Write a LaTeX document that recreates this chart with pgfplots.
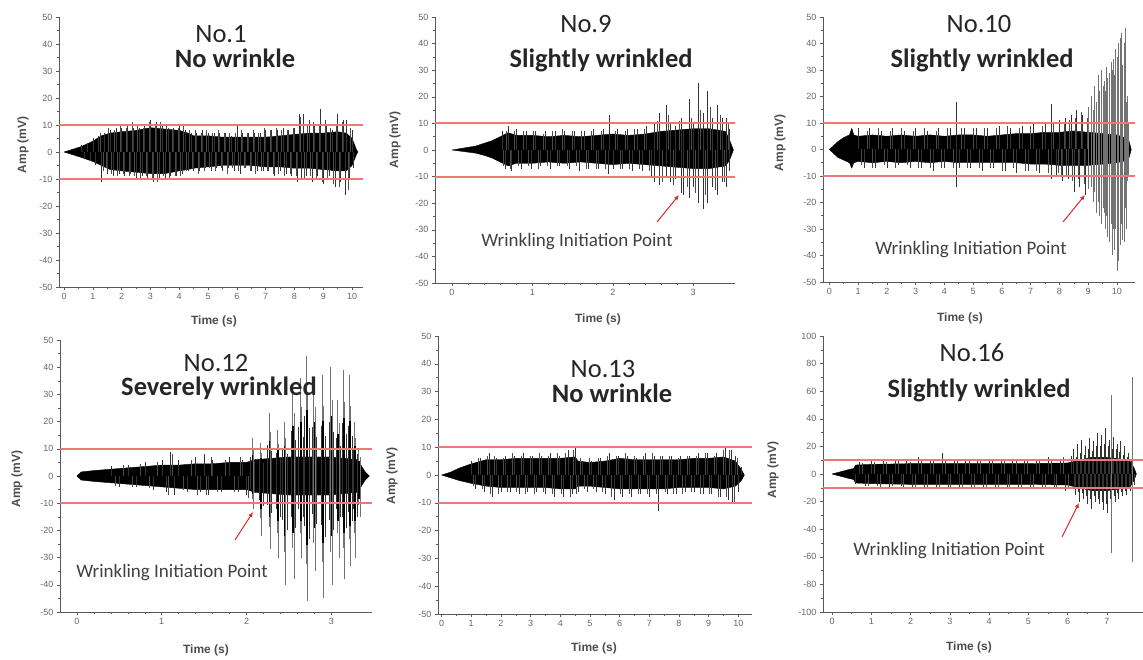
\documentclass[border=0pt]{standalone}
\usepackage{pgfplots}
\pgfplotsset{compat=1.18}
\usepackage{fontspec}
\setmainfont{Carlito}
\newfontfamily\arialf{Liberation Sans}
\usetikzlibrary{arrows.meta}
\definecolor{thrc}{RGB}{238,120,120}
\definecolor{arrc}{RGB}{220,40,40}
\newcommand\tickfont{\arialf\fontsize{9}{10}\selectfont}
\newcommand\labfont{\arialf\bfseries\fontsize{12}{13}\selectfont}
\newcommand\titfont{\fontsize{26.5}{28}\selectfont}
\newcommand\wfont{\fontsize{19}{21}\selectfont}
\pgfplotsset{
 panel/.style={scale only axis, anchor=south west, axis lines*=left,
   axis line style={black!65,line width=0.6pt},
   tick style={black!65,line width=0.5pt},
   tick align=outside, major tick length=3pt, minor tick length=1.8pt,
   ticklabel style={font=\tickfont, text=black!60},
   /pgf/number format/assume math mode=true,
   ymin=-50,ymax=50, ytick={-50,-40,...,50}, minor y tick num=1,
   minor x tick num=1, clip=false},
 core/.style={color=black, fill=black, line width=0.4pt, mark=none},
 fr/.style={ycomb, color=black!80, line width=0.4pt, mark=none},
 fr2/.style={ycomb, color=black!70, line width=0.35pt, mark=none},
 gr/.style={ycomb, color=black!55, line width=0.45pt, mark=none},
 thick/.style={ycomb, color=black, line width=1.6pt, mark=none},
 thr/.style={sharp plot, fill=thrc, draw=none, mark=none},
}
\tikzset{warr/.style={draw=arrc, line width=1pt, -{Latex[length=5pt,width=4.5pt]}}}
\begin{document}
\begin{tikzpicture}[x=1pt,y=1pt]
\useasboundingbox (0pt,0pt) rectangle (1143pt,659pt);
% ---------------- Panel 1 ----------------
\begin{axis}[panel, at={(59pt,372pt)}, width=304pt, height=270pt, xmin=-0.174, xmax=10.38, xtick={0,...,10}]
\addplot[core] coordinates {(0,0) (0.3,1) (0.6,2) (1.0,4) (1.3,6) (1.6,7) (2.0,7.5) (2.5,8) (3.0,9) (3.5,8.5) (4.0,8) (4.3,7) (4.5,6) (5.0,6) (5.5,5.5) (6.0,5.5) (6.5,5.5) (7.0,5.5) (7.5,6) (8.0,6.5) (8.5,7) (9.0,7) (9.5,7.5) (9.8,7) (10.0,5) (10.15,1) (10.2,0) (10.15,-1) (10.0,-5) (9.8,-7) (9.5,-7) (9.0,-6.5) (8.5,-6) (8.0,-6) (7.5,-5.5) (7.0,-5.5) (6.5,-5) (6.0,-5) (5.5,-5) (5.0,-5.5) (4.5,-6) (4.3,-6.5) (4.0,-7) (3.5,-8) (3.0,-8) (2.5,-7.5) (2.0,-7) (1.6,-6.5) (1.3,-5) (1.0,-3.5) (0.6,-2) (0.3,-1) (0,0)};
\addplot[fr] coordinates {(0.6,2.5) (0.7,-2.5) (0.8,3.5) (0.9,-3.5) (1.0,5) (1.1,-5) (1.2,6) (1.3,-11) (1.4,7) (1.5,-8) (1.6,8) (1.7,-9) (1.8,9) (1.9,-8) (2.0,9) (2.1,-9) (2.2,10) (2.3,-8) (2.4,9) (2.5,-10) (2.6,9) (2.7,-9) (2.8,10) (2.9,-10) (3.0,12) (3.1,-11) (3.2,11) (3.3,-10) (3.4,10) (3.5,-10) (3.6,9) (3.7,-9) (3.8,9) (3.9,-9) (4.0,10) (4.1,-8) (4.2,8) (4.3,-7) (4.4,7) (4.5,-7) (4.6,7) (4.7,-7) (4.8,8) (4.9,-6) (5.0,7) (5.1,-7) (5.2,7) (5.3,-6) (5.4,7) (5.5,-7) (5.6,7) (5.7,-6) (5.8,6) (5.9,-7) (6.0,10) (6.1,-8) (6.2,7) (6.3,-6) (6.4,7) (6.5,-7) (6.6,7) (6.7,-7) (6.8,7) (6.9,-7) (7.0,8) (7.1,-7) (7.2,8) (7.3,-9) (7.4,8) (7.5,-7) (7.6,9) (7.7,-8) (7.8,8) (7.9,-9) (8.0,9) (8.1,-11) (8.15,14) (8.25,-10) (8.3,14) (8.4,-9) (8.5,12) (8.6,-11) (8.7,10) (8.8,-9) (8.9,16) (9.0,-12) (9.1,10) (9.2,-9) (9.3,8) (9.4,-13) (9.5,14) (9.6,-11) (9.7,12) (9.75,-16) (9.8,12) (9.9,-10) (10.0,8) (10.05,-6)};
\addplot[fr2] coordinates {(1.25,7) (1.35,-7) (1.45,-6) (1.55,9) (1.65,-8) (1.75,8) (1.85,-9) (1.95,10) (2.05,-8) (2.15,9) (2.25,-9) (2.35,11) (2.45,-9) (2.55,10) (2.65,-10) (2.75,9) (2.85,-9) (2.95,11) (3.05,-10) (3.15,10) (3.25,-11) (3.35,11) (3.45,-9) (3.55,10) (3.65,-10) (3.75,8) (3.85,-9) (3.95,9) (4.05,-9) (4.15,10) (4.25,-7) (4.35,8) (4.45,-6) (4.55,8) (4.65,-8) (4.75,7) (4.85,-7) (4.95,8) (5.05,-6) (5.15,7) (5.25,-7) (5.35,8) (5.45,-6) (5.55,7) (5.65,-8) (5.75,7) (5.85,-6) (5.95,7) (6.05,-7) (6.15,8) (6.25,-6) (6.35,7) (6.45,-7) (6.55,8) (6.65,-8) (6.75,7) (6.85,-7) (6.95,9) (7.05,-7) (7.15,8) (7.25,-8) (7.35,9) (7.45,-8) (7.55,8) (7.65,-9) (7.75,8) (7.85,-8) (7.95,9) (8.05,-9) (8.2,13) (8.35,-10) (8.45,10) (8.55,-9) (8.65,11) (8.75,-10) (8.85,10) (8.95,-11) (9.05,12) (9.15,-10) (9.25,9) (9.35,-12) (9.45,10) (9.55,-13) (9.65,11) (9.85,-14) (9.95,9)};
\addplot[thr] coordinates {(-0.174,9.65) (10.38,9.65) (10.38,10.35) (-0.174,10.35)};
\addplot[thr] coordinates {(-0.174,-10.35) (10.38,-10.35) (10.38,-9.65) (-0.174,-9.65)};
\end{axis}
% ---------------- Panel 2 ----------------
\begin{axis}[panel, at={(435pt,376pt)}, width=300pt, height=266pt, xmin=-0.21, xmax=3.52, xtick={0,1,2,3}, minor x tick num=4]
\addplot[core] coordinates {(0,0) (0.1,0.5) (0.2,1) (0.3,1.5) (0.4,2.5) (0.5,3.5) (0.6,5) (0.7,6.5) (0.8,5.5) (1.0,5.5) (1.2,5) (1.4,5.5) (1.6,5) (1.8,5.5) (2.0,6) (2.2,5.5) (2.4,6) (2.6,7) (2.8,7.5) (3.0,8) (3.2,8) (3.4,7) (3.45,4) (3.5,0) (3.45,-4) (3.4,-6) (3.2,-7) (3.0,-7) (2.8,-6.5) (2.6,-6) (2.4,-5.5) (2.2,-5) (2.0,-5.5) (1.8,-5) (1.6,-4.5) (1.4,-5) (1.2,-4.5) (1.0,-5) (0.8,-5) (0.7,-6) (0.6,-4.5) (0.5,-3) (0.4,-2) (0.3,-1.2) (0.2,-0.8) (0.1,-0.4) (0,0)};
\addplot[fr] coordinates {(0.62,7) (0.66,-7) (0.70,9) (0.74,-8) (0.80,8) (0.86,-7) (0.92,7) (0.98,-7) (1.04,7) (1.10,-6) (1.16,7) (1.22,-7) (1.28,7) (1.34,-6) (1.40,7) (1.46,-7) (1.52,7) (1.58,-8) (1.64,7) (1.70,-7) (1.76,8) (1.82,-7) (1.88,8) (1.94,-9) (1.96,13) (2.00,-7) (2.06,8) (2.12,-7) (2.18,8) (2.24,-8) (2.30,8) (2.36,-8) (2.42,9) (2.48,-10) (2.52,10) (2.52,-12) (2.58,14) (2.58,-13) (2.66,17) (2.66,-10) (2.72,10) (2.72,-12) (2.78,9) (2.78,-11) (2.85,12) (2.85,-16) (2.88,8) (2.88,-17) (2.95,19) (2.95,-18) (3.0,10) (3.0,-14) (3.06,25) (3.06,-20) (3.12,14) (3.12,-22) (3.18,22) (3.18,-20) (3.24,12) (3.24,-14) (3.3,17) (3.3,-17) (3.36,12) (3.36,-12) (3.41,12) (3.41,-14) (3.45,8) (3.45,-8)};
\addplot[fr2] coordinates {(0.64,-6) (0.68,7) (0.72,-7) (0.77,7) (0.83,-6) (0.89,7) (0.95,-6) (1.01,7) (1.07,-7) (1.13,6) (1.19,-6) (1.25,7) (1.31,-6) (1.37,8) (1.43,-6) (1.49,7) (1.55,-6) (1.61,7) (1.67,-7) (1.73,7) (1.79,-7) (1.85,7) (1.91,-7) (2.03,7) (2.09,-7) (2.15,7) (2.21,-7) (2.27,8) (2.33,-7) (2.39,8) (2.45,-8) (2.55,11) (2.62,-12) (2.69,13) (2.75,-13) (2.82,11) (2.92,-14) (2.98,12) (3.03,-16) (3.09,15) (3.15,-17) (3.21,16) (3.27,-15) (3.33,13) (3.39,-12) (3.43,10)};
\addplot[thr] coordinates {(-0.21,9.65) (3.52,9.65) (3.52,10.35) (-0.21,10.35)};
\addplot[thr] coordinates {(-0.21,-10.35) (3.52,-10.35) (3.52,-9.65) (-0.21,-9.65)};
\end{axis}
% ---------------- Panel 3 ----------------
\begin{axis}[panel, at={(823pt,377pt)}, width=312pt, height=265pt, xmin=-0.22, xmax=10.63, xtick={0,...,10}]
\addplot[core] coordinates {(0,0) (0.15,1.5) (0.3,3) (0.5,4.5) (0.7,5.5) (0.78,8) (0.85,5.5) (1.0,5) (1.5,5.5) (2.0,5) (2.5,5.5) (3.0,5) (3.5,5.5) (4.0,5) (4.5,5.5) (5.0,5.5) (5.5,5) (6.0,5.5) (6.5,6) (7.0,6) (7.5,6.5) (8.0,6.5) (8.5,7) (9.0,6.5) (9.5,6) (10.0,5.5) (10.4,4) (10.5,0) (10.4,-4) (10.0,-5) (9.5,-5.5) (9.0,-6) (8.5,-6) (8.0,-6) (7.5,-5.5) (7.0,-5.5) (6.5,-5) (6.0,-5) (5.5,-5) (5.0,-5) (4.5,-5) (4.0,-4.5) (3.5,-5) (3.0,-4.5) (2.5,-5) (2.0,-4.5) (1.5,-5) (1.0,-4.5) (0.85,-5) (0.78,-7) (0.7,-5) (0.5,-4) (0.3,-3) (0.15,-1.5) (0,0)};
\addplot[fr] coordinates {(1.0,8) (1.2,-7) (1.4,8) (1.6,-7) (1.8,7) (2.0,-7) (2.2,8) (2.4,-6) (2.6,7) (2.8,-7) (3.0,8) (3.2,-7) (3.4,7) (3.6,-8) (3.8,8) (4.0,-7) (4.2,8) (4.4,-14) (4.42,18) (4.5,-7) (4.7,8) (4.9,-7) (5.1,8) (5.3,-8) (5.5,8) (5.7,-7) (5.9,9) (6.1,-8) (6.3,8) (6.5,-9) (6.7,9) (6.9,-8) (7.1,10) (7.3,-9) (7.5,10) (7.7,-11) (7.72,17) (7.9,-10) (8.0,11) (8.1,-12) (8.2,12) (8.3,-11) (8.4,13) (8.5,-16) (8.6,15) (8.7,-14) (8.8,13) (8.9,-17)};
\addplot[fr2] coordinates {(1.1,-6) (1.3,7) (1.5,-7) (1.7,8) (1.9,-6) (2.1,7) (2.3,-7) (2.5,8) (2.7,-6) (2.9,7) (3.1,-7) (3.3,8) (3.5,-7) (3.7,7) (3.9,-7) (4.1,8) (4.3,-7) (4.6,8) (4.8,-7) (5.0,8) (5.2,-7) (5.4,8) (5.6,-7) (5.8,8) (6.0,-8) (6.2,9) (6.4,-7) (6.6,8) (6.8,-8) (7.0,9) (7.2,-8) (7.4,9) (7.6,-9) (7.8,10) (7.95,-9) (8.05,-10) (8.15,10) (8.25,-10) (8.35,11) (8.45,-12) (8.55,12) (8.65,-11) (8.75,14) (8.85,-13) (8.95,12)};
\addplot[gr] coordinates {(9.0,16) (9.0,-15) (9.1,20) (9.1,-14) (9.17,15) (9.17,-20) (9.22,24) (9.22,-16) (9.28,18) (9.28,-24) (9.34,28) (9.34,-20) (9.40,22) (9.40,-25) (9.46,30) (9.46,-28) (9.52,24) (9.52,-22) (9.56,26) (9.56,-24) (9.6,22) (9.6,-30) (9.63,31) (9.63,-25) (9.68,27) (9.68,-33) (9.72,29) (9.72,-24) (9.75,25) (9.75,-35) (9.8,33) (9.8,-28) (9.83,30) (9.83,-40) (9.86,34) (9.86,-30) (9.9,28) (9.9,-38) (9.95,38) (9.95,-30) (10.0,35) (10.0,-46) (10.03,40) (10.03,-32) (10.06,33) (10.06,-42) (10.1,42) (10.1,-30) (10.13,30) (10.13,-36) (10.16,44) (10.16,-28) (10.2,32) (10.2,-34) (10.24,40) (10.24,-25) (10.27,28) (10.27,-35) (10.3,46) (10.3,-22) (10.33,18) (10.33,-30) (10.36,20) (10.36,-12) (10.4,10) (10.4,-10)};
\addplot[thr] coordinates {(-0.22,9.65) (10.63,9.65) (10.63,10.35) (-0.22,10.35)};
\addplot[thr] coordinates {(-0.22,-10.35) (10.63,-10.35) (10.63,-9.65) (-0.22,-9.65)};
\end{axis}
% ---------------- Panel 4 ----------------
\begin{axis}[panel, at={(60pt,47pt)}, width=312pt, height=272pt, xmin=-0.2, xmax=3.48, xtick={0,1,2,3}, minor x tick num=4]
\addplot[core] coordinates {(0,0) (0.05,1.5) (0.2,2) (0.4,2.5) (0.6,3) (0.8,3.5) (1.0,4) (1.2,4) (1.4,4.5) (1.6,4.5) (1.8,5) (2.0,5) (2.1,6) (2.5,7) (3.0,7) (3.3,6) (3.35,4) (3.4,1.5) (3.45,0) (3.4,-1.5) (3.35,-4) (3.3,-6) (3.0,-7) (2.5,-7) (2.1,-6) (2.0,-5) (1.8,-5) (1.6,-5) (1.4,-5) (1.2,-4.5) (1.0,-4) (0.8,-3.5) (0.6,-3) (0.4,-2.5) (0.2,-2) (0.05,-1.5) (0,0)};
\addplot[fr] coordinates {(0.4,3.5) (0.5,-4) (0.6,4) (0.7,-4) (0.8,5) (0.9,-5) (1.0,6) (1.05,-6) (1.1,9) (1.15,-7) (1.2,6) (1.3,-6) (1.4,7) (1.45,-6) (1.5,8) (1.55,-7) (1.6,6) (1.7,-6) (1.8,7) (1.9,-6) (1.95,6) (2.0,-7)};
\addplot[fr2] coordinates {(0.45,-3.5) (0.55,4) (0.65,-4) (0.75,4.5) (0.85,-4.5) (0.95,5) (1.08,-7) (1.12,8) (1.25,-5) (1.35,6) (1.42,-7) (1.52,-7) (1.58,7) (1.65,-6) (1.75,6) (1.85,-6) (1.92,7) (2.02,-8)};
\addplot[gr] coordinates {(2.062,14) (2.062,-8.4) (2.078,9.8) (2.078,-12) (2.162,12) (2.162,-15.4) (2.178,8.4) (2.178,-22) (2.262,23) (2.262,-18.9) (2.278,16.1) (2.278,-27) (2.362,17) (2.362,-21) (2.378,11.9) (2.378,-30) (2.442,20) (2.442,-28) (2.458,14) (2.458,-40) (2.542,33) (2.542,-26.6) (2.558,23.1) (2.558,-38) (2.632,36) (2.632,-21) (2.648,25.2) (2.648,-30) (2.702,44) (2.702,-32.2) (2.718,30.8) (2.718,-46) (2.792,36) (2.792,-24.5) (2.808,25.2) (2.808,-35) (2.892,37) (2.892,-31.5) (2.908,25.9) (2.908,-45) (2.992,40) (2.992,-28) (3.008,28) (3.008,-40) (3.072,28) (3.072,-21) (3.088,19.6) (3.088,-30) (3.142,39) (3.142,-26.6) (3.158,27.3) (3.158,-38) (3.212,37) (3.212,-23.1) (3.228,25.9) (3.228,-33) (3.272,20) (3.272,-21) (3.288,14) (3.288,-30) (3.322,10) (3.322,-10.5) (3.338,7) (3.338,-15)};
\addplot[fr] coordinates {(2.045,7) (2.045,-4.8) (2.095,5.6) (2.095,-6) (2.145,6) (2.145,-8.8) (2.195,4.8) (2.195,-11) (2.245,11.5) (2.245,-10.8) (2.295,9.2) (2.295,-13.5) (2.345,8.5) (2.345,-12) (2.395,6.8) (2.395,-15) (2.425,10) (2.425,-16) (2.475,8) (2.475,-20) (2.525,16.5) (2.525,-15.2) (2.575,13.2) (2.575,-19) (2.615,18) (2.615,-12) (2.665,14.4) (2.665,-15) (2.685,22) (2.685,-18.4) (2.735,17.6) (2.735,-23) (2.775,18) (2.775,-14) (2.825,14.4) (2.825,-17.5) (2.875,18.5) (2.875,-18) (2.925,14.8) (2.925,-22.5) (2.975,20) (2.975,-16) (3.025,16) (3.025,-20) (3.055,14) (3.055,-12) (3.105,11.2) (3.105,-15) (3.125,19.5) (3.125,-15.2) (3.175,15.6) (3.175,-19) (3.195,18.5) (3.195,-13.2) (3.245,14.8) (3.245,-16.5) (3.26,10) (3.26,-12) (3.30,8) (3.30,-15)};
\addplot[thick] coordinates {(2.07,7.7) (2.07,-6.6) (2.17,6.6) (2.17,-12.1) (2.27,12.7) (2.27,-14.9) (2.37,9.4) (2.37,-16.5) (2.45,11) (2.45,-22) (2.55,18.2) (2.55,-20.9) (2.64,19.8) (2.64,-16.5) (2.71,24.2) (2.71,-25.3) (2.80,19.8) (2.80,-19.3) (2.90,20.4) (2.90,-24.8) (3.00,22) (3.00,-22) (3.08,15.4) (3.08,-16.5) (3.15,21.5) (3.15,-20.9) (3.22,20.4) (3.22,-18.2) (3.28,11) (3.28,-16.5) (3.33,5.5) (3.33,-8.3)};
\addplot[thr] coordinates {(-0.2,9.65) (3.48,9.65) (3.48,10.35) (-0.2,10.35)};
\addplot[thr] coordinates {(-0.2,-10.35) (3.48,-10.35) (3.48,-9.65) (-0.2,-9.65)};
\end{axis}
% ---------------- Panel 5 ----------------
\begin{axis}[panel, at={(438pt,45pt)}, width=314pt, height=278pt, xmin=-0.12, xmax=10.46, xtick={0,...,10}]
\addplot[core] coordinates {(0,0) (0.3,1) (0.6,2.5) (1.0,4) (1.5,5.5) (2.0,5.5) (2.5,6) (3.0,6) (3.5,6) (4.0,6) (4.5,6.5) (4.6,5) (5.0,4.5) (5.5,5) (6.0,6) (6.5,5.5) (7.0,5.5) (7.5,5.5) (8.0,5.5) (8.5,6) (9.0,6) (9.5,6.5) (9.9,5) (10.1,2) (10.2,0) (10.1,-2) (9.9,-4) (9.5,-5) (9.0,-4.5) (8.5,-4.5) (8.0,-4.5) (7.5,-5) (7.0,-5) (6.5,-5) (6.0,-5) (5.5,-4.5) (5.0,-4) (4.6,-4) (4.5,-5) (4.0,-5) (3.5,-4.5) (3.0,-4.5) (2.5,-4.5) (2.0,-4.5) (1.5,-4) (1.0,-3) (0.6,-2) (0.3,-1) (0,0)};
\addplot[fr] coordinates {(1.0,5) (1.15,-5) (1.3,6) (1.45,-6) (1.6,8) (1.7,-8) (1.85,6) (2.0,-6) (2.15,7) (2.3,-6) (2.45,7) (2.6,-7) (2.75,8) (2.9,-6) (3.05,7) (3.2,-6) (3.35,7) (3.5,-7) (3.65,8) (3.8,-8) (3.95,7) (4.1,-8) (4.25,9) (4.4,-7) (4.5,10) (4.6,-6) (4.75,5) (4.9,-6) (5.05,5) (5.2,-6) (5.35,6) (5.5,-7) (5.65,8) (5.8,-9) (5.95,7) (6.1,-8) (6.25,7) (6.4,-8) (6.55,6) (6.7,-7) (6.85,8) (7.0,-8) (7.15,7) (7.3,-13) (7.45,7) (7.6,-7) (7.75,7) (7.9,-7) (8.05,7) (8.2,-6) (8.35,7) (8.5,-6) (8.65,8) (8.8,-7) (8.95,8) (9.1,-7) (9.25,8) (9.4,-8) (9.55,10) (9.65,-9) (9.75,9) (9.8,-10) (9.9,7) (10.0,-6) (10.1,3)};
\addplot[fr2] coordinates {(1.08,-4) (1.22,6) (1.38,-5) (1.52,7) (1.65,-7) (1.78,7) (1.92,-7) (2.08,6) (2.22,-6) (2.38,8) (2.52,-6) (2.68,7) (2.82,-7) (2.98,7) (3.12,-7) (3.28,8) (3.42,-6) (3.58,7) (3.72,-7) (3.88,8) (4.02,-7) (4.18,8) (4.32,-8) (4.45,9) (4.55,-7) (4.68,6) (4.82,-5) (4.98,6) (5.12,-5) (5.28,6) (5.42,-6) (5.58,7) (5.72,-8) (5.88,7) (6.02,-7) (6.18,8) (6.32,-7) (6.48,7) (6.62,-7) (6.78,7) (6.92,-7) (7.08,8) (7.22,-7) (7.38,7) (7.52,-6) (7.68,7) (7.82,-7) (7.98,6) (8.12,-7) (8.28,7) (8.42,-6) (8.58,7) (8.72,-7) (8.88,8) (9.02,-7) (9.18,7) (9.32,-8) (9.48,9) (9.6,-8) (9.7,9) (9.85,-10) (9.95,6)};
\addplot[thr] coordinates {(-0.12,9.65) (10.46,9.65) (10.46,10.35) (-0.12,10.35)};
\addplot[thr] coordinates {(-0.12,-10.35) (10.46,-10.35) (10.46,-9.65) (-0.12,-9.65)};
\end{axis}
% ---------------- Panel 6 ----------------
\begin{axis}[panel, at={(823pt,47pt)}, width=320pt, height=276pt, xmin=-0.23, xmax=7.92, xtick={0,...,7}, ymin=-100, ymax=100, ytick={-100,-80,...,100}]
\addplot[core] coordinates {(0,0) (0.2,1.5) (0.4,3) (0.55,4) (0.6,6.5) (1.0,7) (2.0,7.5) (3.0,7.5) (4.0,7.5) (5.0,7.5) (6.0,8) (6.3,10) (6.6,12) (7.0,12) (7.3,11) (7.6,9) (7.7,4) (7.75,0) (7.7,-4) (7.6,-9) (7.3,-11) (7.0,-12) (6.6,-12) (6.3,-10) (6.0,-8) (5.0,-7.5) (4.0,-7.5) (3.0,-7.5) (2.0,-7.5) (1.0,-7) (0.6,-6.5) (0.55,-4) (0.4,-3) (0.2,-1.5) (0,0)};
\addplot[fr] coordinates {(0.6,-7) (0.7,9) (0.85,-9) (1.0,10) (1.15,-9) (1.3,10) (1.45,-10) (1.6,11) (1.75,-9) (1.9,10) (2.05,-10) (2.2,12) (2.35,-10) (2.5,11) (2.65,-10) (2.8,15) (2.95,-10) (3.1,11) (3.25,-11) (3.4,10) (3.55,-10) (3.7,11) (3.85,-10) (4.0,10) (4.15,-11) (4.3,11) (4.45,-10) (4.6,11) (4.75,-11) (4.9,10) (5.05,-11) (5.2,11) (5.35,-10) (5.5,12) (5.65,-11) (5.8,11) (5.95,-12) (6.1,13) (6.15,18) (6.2,-15) (6.25,22) (6.3,-20) (6.35,25) (6.4,-18) (6.45,20) (6.5,-22) (6.55,26) (6.6,-25) (6.65,24) (6.7,-20) (6.75,30) (6.8,-22) (6.85,28) (6.9,-26) (6.95,33) (7.0,-28) (7.05,25) (7.1,-22) (7.15,27) (7.2,-20) (7.25,22) (7.3,-18) (7.35,24) (7.4,-16) (7.45,20) (7.5,-15) (7.55,15) (7.6,-12) (7.65,12) (7.7,-8)};
\addplot[fr] coordinates {(6.175,-10) (6.225,12) (6.275,-13) (6.325,15) (6.375,-14) (6.425,14) (6.475,-16) (6.525,18) (6.575,-18) (6.625,17) (6.675,-16) (6.725,20) (6.775,-18) (6.825,20) (6.875,-20) (6.925,22) (6.975,-22) (7.025,20) (7.075,-18) (7.125,18) (7.175,-16) (7.225,18) (7.275,-14) (7.325,16) (7.375,-13) (7.425,14) (7.475,-12) (7.525,12) (7.575,-10) (7.625,10)};
\addplot[fr2] coordinates {(0.78,8) (0.92,-9) (1.08,9) (1.22,-10) (1.38,9) (1.52,-9) (1.68,10) (1.82,-10) (1.98,9) (2.12,-11) (2.28,10) (2.42,-10) (2.58,10) (2.72,-10) (2.88,11) (3.02,-10) (3.18,10) (3.32,-10) (3.48,11) (3.62,-10) (3.78,10) (3.92,-11) (4.08,10) (4.22,-10) (4.38,11) (4.52,-11) (4.68,10) (4.82,-10) (4.98,11) (5.12,-10) (5.28,11) (5.42,-11) (5.58,10) (5.72,-11) (5.88,12) (6.02,-11)};
\addplot[gr] coordinates {(7.1,57) (7.1,-57) (7.64,70) (7.64,-64)};
\addplot[thr] coordinates {(-0.23,9.3) (7.92,9.3) (7.92,10.7) (-0.23,10.7)};
\addplot[thr] coordinates {(-0.23,-10.7) (7.92,-10.7) (7.92,-9.3) (-0.23,-9.3)};
\end{axis}
% ---------------- Axis labels ----------------
\begin{scope}[every node/.style={font=\labfont, text=black!70}]
\node at (214pt,338pt) {Time (s)};
\node at (598pt,340pt) {Time (s)};
\node at (960pt,341pt) {Time (s)};
\node at (206pt,9pt) {Time (s)};
\node at (594pt,11pt) {Time (s)};
\node at (969pt,12pt) {Time (s)};
\node[rotate=90] at (23pt,514pt) {Amp (mV)};
\node[rotate=90] at (395pt,519pt) {Amp (mV)};
\node[rotate=90] at (780pt,516pt) {Amp (mV)};
\node[rotate=90] at (17pt,180pt) {Amp (mV)};
\node[rotate=90] at (392pt,183pt) {Amp (mV)};
\node[rotate=90] at (773pt,189pt) {Amp (mV)};
\end{scope}
% ---------------- Titles ----------------
\begin{scope}[every node/.style={font=\titfont, text=black!85, anchor=base, inner sep=0pt}]
\node at (221pt,616pt) {No.1};
\node at (235pt,591pt) {\bfseries No wrinkle};
\node at (586pt,626pt) {No.9};
\node at (601pt,591pt) {\bfseries Slightly wrinkled};
\node at (979pt,626pt) {No.10};
\node at (982pt,591pt) {\bfseries Slightly wrinkled};
\node at (216pt,287pt) {No.12};
\node at (219pt,263pt) {\bfseries Severely wrinkled};
\node at (603pt,281pt) {No.13};
\node at (612pt,256pt) {\bfseries No wrinkle};
\node at (972pt,297pt) {No.16};
\node at (979pt,261pt) {\bfseries Slightly wrinkled};
\end{scope}
\begin{scope}[every node/.style={font=\wfont, text=black!75, anchor=base, inner sep=0pt}]
\node at (577pt,412pt) {Wrinkling Initiation Point};
\node at (971pt,404pt) {Wrinkling Initiation Point};
\node at (172pt,82pt) {Wrinkling Initiation Point};
\node at (949pt,104pt) {Wrinkling Initiation Point};
\end{scope}
\draw[warr] (657pt,437pt) -- (679pt,464pt);
\draw[warr] (1063pt,437pt) -- (1085pt,464pt);
\draw[warr] (235pt,119pt) -- (253pt,147pt);
\draw[warr] (1062pt,122pt) -- (1079pt,156pt);
\end{tikzpicture}
\end{document}
